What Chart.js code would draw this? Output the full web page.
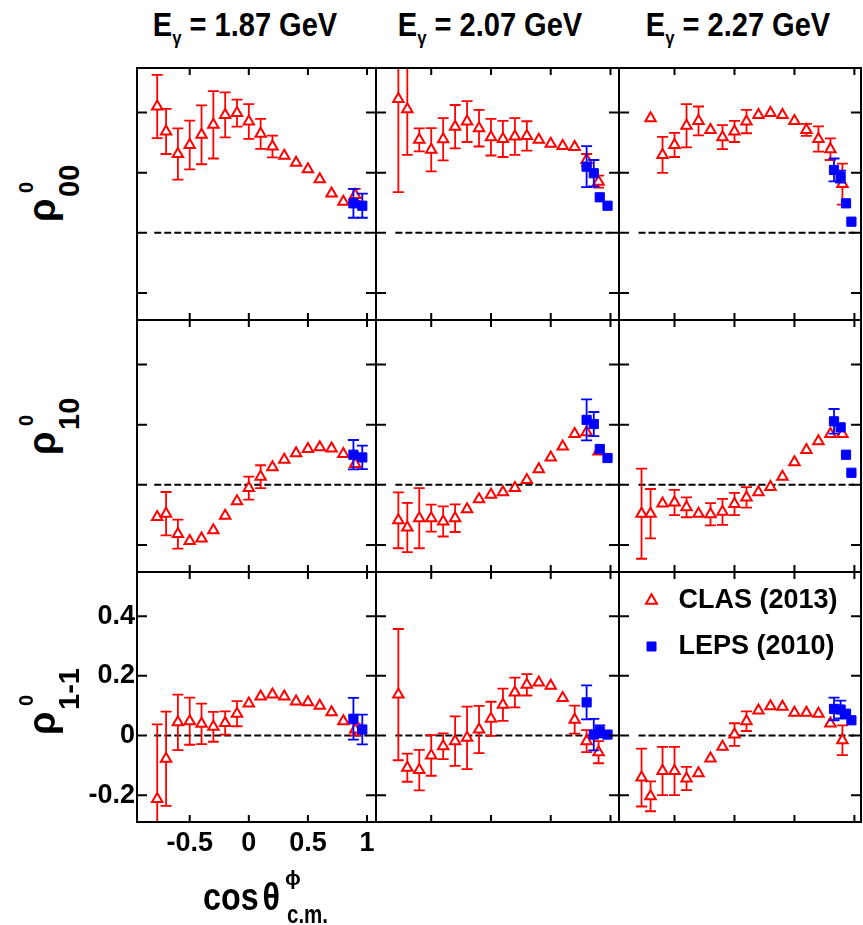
<!DOCTYPE html>
<html>
<head>
<meta charset="utf-8">
<script src="https://cdn.jsdelivr.net/npm/chart.js@4.4.1/dist/chart.umd.min.js"></script>
<style>
  body { margin: 0; background: #fff; width: 863px; height: 925px; position: relative; overflow: hidden;
         font-family: "Liberation Sans", Arial, sans-serif; font-weight: bold; color: #000; }
  canvas { position: absolute; }
  .head { position: absolute; top: 8px; font-size: 33px; line-height: 33px; white-space: nowrap;
          transform: translateX(-50%) scaleX(0.88); }
  .head sub { font-size: 19px; line-height: 0; vertical-align: baseline; position: relative; top: 8px; }
  .yt { position: absolute; width: 60px; height: 64px; transform: rotate(-90deg); z-index: 2; }
  .yt span { position: absolute; white-space: nowrap; }
  .yt .rho { font-size: 38px; line-height: 38px; top: 5px; left: 1px; }
  .yt .sup { font-size: 20px; line-height: 20px; top: -2px; left: 30px; }
  .yt .sub { font-size: 29px; line-height: 29px; top: 37px; left: 26px; }
  .xt { position: absolute; white-space: nowrap; z-index: 2; transform-origin: left center; }
</style>
</head>
<body>
<div class="head" style="left:245px">E<sub>γ</sub> = 1.87 GeV</div>
<div class="head" style="left:490px">E<sub>γ</sub> = 2.07 GeV</div>
<div class="head" style="left:738px">E<sub>γ</sub> = 2.27 GeV</div>

<div class="yt" style="left:20px; top:161px"><span class="rho">ρ</span><span class="sup">0</span><span class="sub">00</span></div>
<div class="yt" style="left:20px; top:394px"><span class="rho">ρ</span><span class="sup">0</span><span class="sub">10</span></div>
<div class="yt" style="left:20px; top:674px"><span class="rho">ρ</span><span class="sup">0</span><span class="sub">1-1</span></div>

<div class="xt" style="left:203px; top:878px; font-size:38px; line-height:38px; transform:scaleX(0.85); word-spacing:-6px">cos θ</div>
<div class="xt" style="left:285px; top:867px; font-size:21px; line-height:21px">ϕ</div>
<div class="xt" style="left:287px; top:902px; font-size:25px; line-height:25px; transform:scaleX(0.82)">c.m.</div>

<script>
// cos(theta) bins of the CLAS points, LEPS bins per energy
const cosX = [-0.775, -0.7, -0.6, -0.5, -0.4, -0.3, -0.2, -0.1, 0, 0.1, 0.2, 0.3, 0.4, 0.5, 0.6, 0.7, 0.8, 0.9];
const lepsX187 = [0.885, 0.96];
const lepsX207 = [0.80, 0.86, 0.91, 0.975];
const lepsX227 = [0.83, 0.885, 0.93, 0.975];

const xTickValues = [-0.5, 0, 0.5, 1];
const yTickValues = [-0.2, 0, 0.2, 0.4];
const zeroLineX = [-0.8, 1.0];

// rho^0_00
const r00Clas187 = [0.42, 0.337, 0.262, 0.292, 0.326, 0.359, 0.392, 0.398, 0.37, 0.329, 0.287, 0.256, 0.233, 0.211, 0.178, 0.131, 0.103, 0.126];
const r00Clas187Err = [0.105, 0.075, 0.085, 0.081, 0.098, 0.112, 0.075, 0.045, 0.058, 0.05, 0.036, 0, 0, 0, 0, 0, 0, 0.02];
const r00Leps187 = [0.098, 0.09];
const r00Leps187Err = [0.048, 0.04];

const r00Clas207 = [0.445, 0.411, 0.309, 0.276, 0.311, 0.353, 0.37, 0.348, 0.318, 0.312, 0.32, 0.322, 0.309, 0.296, 0.289, 0.285, 0.242, 0.17];
const r00Clas207Err = [0.31, 0.152, 0.038, 0.072, 0.07, 0.072, 0.068, 0.061, 0.061, 0.06, 0.061, 0.049, 0, 0, 0, 0, 0.02, 0.02];
const r00Leps207 = [0.22, 0.198, 0.118, 0.09];
const r00Leps207Err = [0.068, 0.044, 0, 0];

const r00Clas227 = [null, 0.381, 0.259, 0.292, 0.356, 0.372, 0.342, 0.318, 0.337, 0.37, 0.392, 0.398, 0.392, 0.372, 0.342, 0.312, 0.278, 0.162];
const r00Clas227Err = [0, 0, 0.06, 0.04, 0.072, 0.048, 0, 0.04, 0.035, 0.039, 0, 0, 0, 0, 0.02, 0.042, 0.036, 0.068];
const r00Leps227 = [0.209, 0.187, 0.098, 0.037];
const r00Leps227Err = [0.038, 0.02, 0, 0];

// rho^0_10
const r10Clas187 = [-0.107, -0.096, -0.164, -0.187, -0.179, -0.151, -0.103, -0.055, -0.011, 0.027, 0.058, 0.083, 0.105, 0.119, 0.125, 0.121, 0.102, 0.069];
const r10Clas187Err = [0, 0.072, 0.048, 0, 0, 0, 0, 0, 0.038, 0.038, 0, 0, 0, 0, 0, 0, 0, 0];
const r10Leps187 = [0.1, 0.091];
const r10Leps187Err = [0.049, 0.039];

const r10Clas207 = [-0.118, -0.142, -0.111, -0.111, -0.122, -0.111, -0.081, -0.048, -0.033, -0.025, -0.011, 0.016, 0.052, 0.091, 0.127, 0.169, 0.175, 0.111];
const r10Clas207Err = [0.093, 0.082, 0.1, 0.045, 0.05, 0.046, 0, 0, 0, 0, 0, 0, 0, 0, 0, 0, 0, 0];
const r10Leps207 = [0.216, 0.202, 0.119, 0.089];
const r10Leps207Err = [0.068, 0.04, 0, 0];

const r10Clas227 = [-0.096, -0.096, -0.062, -0.059, -0.075, -0.096, -0.098, -0.09, -0.064, -0.042, -0.025, -0.007, 0.027, 0.075, 0.116, 0.145, 0.169, 0.169];
const r10Clas227Err = [0.15, 0.082, 0, 0.042, 0.033, 0, 0.037, 0.043, 0.037, 0.034, 0, 0, 0, 0, 0, 0, 0, 0];
const r10Leps227 = [0.211, 0.191, 0.1, 0.04];
const r10Leps227Err = [0.041, 0, 0, 0];

// rho^0_1-1
const r1m1Clas187 = [-0.213, -0.078, 0.044, 0.048, 0.039, 0.029, 0.042, 0.073, 0.107, 0.131, 0.137, 0.131, 0.114, 0.111, 0.1, 0.078, 0.048, 0.02];
const r1m1Clas187Err = [0.25, 0.158, 0.093, 0.079, 0.068, 0.05, 0.039, 0.042, 0, 0, 0, 0, 0, 0, 0, 0, 0, 0.02];
const r1m1Leps187 = [0.056, 0.02];
const r1m1Leps187Err = [0.07, 0.05];

const r1m1Clas207 = [0.137, -0.108, -0.116, -0.067, -0.036, -0.019, -0.008, 0.02, 0.056, 0.103, 0.144, 0.17, 0.178, 0.167, 0.126, 0.053, -0.019, -0.056];
const r1m1Clas207Err = [0.22, 0.047, 0.068, 0.068, 0.043, 0.083, 0.105, 0.079, 0.057, 0.054, 0.05, 0.036, 0, 0, 0, 0.047, 0.037, 0.037];
const r1m1Leps207 = [0.111, 0.003, 0.014, 0.003];
const r1m1Leps207Err = [0.057, 0.053, 0.02, 0];

const r1m1Clas227 = [-0.141, -0.204, -0.119, -0.119, -0.144, -0.127, -0.077, -0.038, 0.003, 0.048, 0.084, 0.098, 0.096, 0.076, 0.076, 0.073, 0.04, -0.016];
const r1m1Clas227Err = [0.097, 0.05, 0.081, 0.081, 0.039, 0, 0, 0, 0.038, 0.033, 0, 0, 0, 0, 0, 0, 0, 0.05];
const r1m1Leps227 = [0.089, 0.087, 0.073, 0.051];
const r1m1Leps227Err = [0.038, 0.03, 0, 0];

// panel placement (plot area edges in page pixels)
const colLeft = [137, 376, 619];
const colRight = [376, 619, 861];
const rowTop = [68, 320, 572];
const rowBottom = [320, 572, 822];
const xMin = [-0.946, -0.962, -0.963];
const xMax = [1.076, 1.071, 1.055];
const yMin = -0.29, yMax = 0.548;
const PAD = 4;

const panels = [
  [0, 0, r00Clas187, r00Clas187Err, lepsX187, r00Leps187, r00Leps187Err],
  [0, 1, r00Clas207, r00Clas207Err, lepsX207, r00Leps207, r00Leps207Err],
  [0, 2, r00Clas227, r00Clas227Err, lepsX227, r00Leps227, r00Leps227Err],
  [1, 0, r10Clas187, r10Clas187Err, lepsX187, r10Leps187, r10Leps187Err],
  [1, 1, r10Clas207, r10Clas207Err, lepsX207, r10Leps207, r10Leps207Err],
  [1, 2, r10Clas227, r10Clas227Err, lepsX227, r10Leps227, r10Leps227Err],
  [2, 0, r1m1Clas187, r1m1Clas187Err, lepsX187, r1m1Leps187, r1m1Leps187Err],
  [2, 1, r1m1Clas207, r1m1Clas207Err, lepsX207, r1m1Leps207, r1m1Leps207Err],
  [2, 2, r1m1Clas227, r1m1Clas227Err, lepsX227, r1m1Leps227, r1m1Leps227Err]
];

Chart.defaults.font.family = "'Liberation Sans', Arial, sans-serif";
Chart.defaults.color = '#000';

const errorBars = {
  id: 'errorBars',
  beforeDatasetDraw(chart, args) {
    const ds = chart.data.datasets[args.index];
    if (!ds.hasErrors) return;
    const { ctx, chartArea: a, scales } = chart;
    ctx.save();
    ctx.beginPath();
    ctx.rect(a.left, a.top, a.width, a.height);
    ctx.clip();
    ctx.strokeStyle = ds.borderColor;
    ctx.lineWidth = 1.8;
    ds.data.forEach(p => {
      if (!p.err) return;
      const px = scales.x.getPixelForValue(p.x);
      const hi = scales.y.getPixelForValue(p.y + p.err);
      const lo = scales.y.getPixelForValue(p.y - p.err);
      ctx.beginPath();
      ctx.moveTo(px, hi); ctx.lineTo(px, lo);
      ctx.moveTo(px - 5.5, hi); ctx.lineTo(px + 5.5, hi);
      ctx.moveTo(px - 5.5, lo); ctx.lineTo(px + 5.5, lo);
      ctx.stroke();
    });
    ctx.restore();
  }
};

const frame = {
  id: 'frame',
  afterDatasetsDraw(chart) {
    const { ctx, chartArea: a, scales } = chart;
    ctx.save();
    ctx.strokeStyle = '#000';
    ctx.lineWidth = 2;
    ctx.strokeRect(a.left, a.top, a.width, a.height);
    ctx.beginPath();
    xTickValues.forEach(v => {
      const px = scales.x.getPixelForValue(v);
      ctx.moveTo(px, a.bottom); ctx.lineTo(px, a.bottom - 7);
      ctx.moveTo(px, a.top); ctx.lineTo(px, a.top + 7);
    });
    yTickValues.forEach(v => {
      const py = scales.y.getPixelForValue(v);
      ctx.moveTo(a.left, py); ctx.lineTo(a.left + 10, py);
      ctx.moveTo(a.right, py); ctx.lineTo(a.right - 10, py);
    });
    ctx.stroke();
    ctx.restore();
  }
};

const tickFont = { size: 27, weight: 'bold' };

panels.forEach(([row, col, clas, clasErr, lepsX, leps, lepsErr]) => {
  const labelled = row === 2 && col === 0;
  const withLegend = row === 2 && col === 2;
  const L = colLeft[col], R = colRight[col], T = rowTop[row], B = rowBottom[row];
  const cx = labelled ? 0 : L - PAD;
  const cy = T - PAD;
  const cw = R + PAD - cx;
  const ch = (labelled ? 925 : B + PAD) - cy;

  const canvas = document.createElement('canvas');
  canvas.width = cw; canvas.height = ch;
  canvas.style.left = cx + 'px'; canvas.style.top = cy + 'px';
  canvas.style.width = cw + 'px'; canvas.style.height = ch + 'px';
  document.body.appendChild(canvas);

  const clasPts = cosX.map((x, i) => ({ x, y: clas[i], err: clasErr[i] })).filter(p => p.y !== null);
  const lepsPts = lepsX.map((x, i) => ({ x, y: leps[i], err: lepsErr[i] }));

  const xAxis = {
    type: 'linear', min: xMin[col], max: xMax[col], display: labelled, position: 'bottom',
    grid: { display: false, drawTicks: false }, border: { display: false },
    afterBuildTicks: a => { a.ticks = xTickValues.map(v => ({ value: v })); },
    ticks: { font: tickFont, color: '#000', padding: 5, maxRotation: 0, autoSkip: false, callback: v => String(v) }
  };
  const yAxis = {
    type: 'linear', min: yMin, max: yMax, display: labelled, position: 'left',
    grid: { display: false, drawTicks: false }, border: { display: false },
    afterBuildTicks: a => { a.ticks = yTickValues.map(v => ({ value: v })); },
    ticks: { font: tickFont, color: '#000', padding: 2, autoSkip: false, callback: v => String(v) }
  };
  if (labelled) {
    xAxis.afterFit = a => { a.height = 925 - B; a.paddingLeft = 0; a.paddingRight = 0; };
    yAxis.afterFit = a => { a.width = L; a.paddingTop = 0; a.paddingBottom = 0; };
  }

  new Chart(canvas, {
    type: 'scatter',
    data: {
      datasets: [
        {
          label: 'CLAS (2013)', data: clasPts, hasErrors: true, order: 1,
          pointStyle: 'triangle', pointRadius: 6, pointBorderWidth: 2,
          borderColor: '#ff0000', pointBorderColor: '#ff0000',
          backgroundColor: '#ffffff', pointBackgroundColor: '#ffffff'
        },
        {
          label: 'LEPS (2010)', data: lepsPts, hasErrors: true, order: 0,
          pointStyle: 'rect', pointRadius: 6.5, pointBorderWidth: 1,
          borderColor: '#0000ff', pointBorderColor: '#0000ff',
          backgroundColor: '#0000ff', pointBackgroundColor: '#0000ff'
        },
        {
          type: 'line', label: 'zero', order: 2,
          data: zeroLineX.map(x => ({ x, y: 0 })),
          borderColor: '#000', borderWidth: 2, borderDash: [7, 3], pointRadius: 0, showLine: true
        }
      ]
    },
    options: {
      responsive: false,
      animation: false,
      devicePixelRatio: 1,
      events: [],
      layout: { autoPadding: false, padding: labelled ? { left: 0, top: PAD, right: PAD, bottom: 0 } : PAD },
      plugins: {
        tooltip: { enabled: false },
        legend: withLegend ? {
          display: true,
          position: 'chartArea',
          align: 'start',
          labels: {
            usePointStyle: true, boxWidth: 27, boxHeight: 9, padding: 19, color: '#000',
            font: { size: 27, weight: 'bold' },
            filter: item => item.datasetIndex < 2,
            sort: (a, b) => a.datasetIndex - b.datasetIndex
          }
        } : { display: false }
      },
      scales: { x: xAxis, y: yAxis }
    },
    plugins: [errorBars, frame]
  });
});
</script>
</body>
</html>
